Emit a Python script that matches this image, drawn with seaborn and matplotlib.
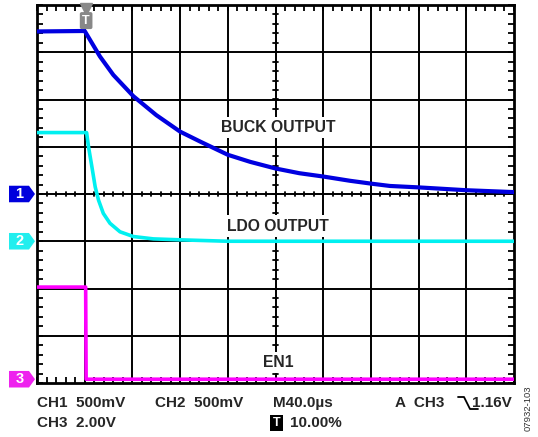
import numpy as np
import pandas as pd
import seaborn as sns
import matplotlib.pyplot as plt
import matplotlib.transforms as mtransforms
from matplotlib.lines import Line2D
from matplotlib.patches import Polygon

# traces, x and y in scope divisions (10 x 8 screen)
buck_x = [0.0, 1.0, 1.32, 1.60, 2.02, 2.5, 3.0, 3.42, 4.0, 4.47, 5.0, 5.5, 6.0, 6.56, 7.0, 7.4, 8.0, 9.0, 10.0]
buck_y = [7.44, 7.45, 6.91, 6.52, 6.07, 5.67, 5.32, 5.11, 4.83, 4.68, 4.54, 4.44, 4.37, 4.28, 4.22, 4.17, 4.14, 4.08, 4.04]

ldo_x = [0.0, 1.04, 1.08, 1.15, 1.22, 1.29, 1.39, 1.53, 1.74, 2.02, 2.44, 3.0, 4.0, 10.0]
ldo_y = [5.30, 5.30, 5.00, 4.58, 4.15, 3.87, 3.59, 3.38, 3.20, 3.10, 3.05, 3.03, 3.0, 3.0]

en_x = [0.0, 1.02, 1.03, 10.0]
en_y = [2.03, 2.03, 0.08, 0.08]

labels = ["BUCK OUTPUT", "LDO OUTPUT", "EN1"]
label_y = [5.4, 3.32, 0.44]
ch_levels = [4.0, 3.0, 0.08]
ch_colors = ["#0000dd", "#22eeee", "#ee22ee"]
trace_colors = ["#0000e0", "#00f0f0", "#ff00ff"]

sns.set_style("white")
plt.rcParams["font.family"] = ["Liberation Sans", "DejaVu Sans"]

fig = plt.figure(figsize=(5.38, 4.37), dpi=100)
ax = fig.add_axes([37 / 538, 1 - 383 / 437, 477 / 538, 378 / 437])

df = pd.concat([
    pd.DataFrame({"x": buck_x, "y": buck_y, "ch": "CH1"}),
    pd.DataFrame({"x": ldo_x, "y": ldo_y, "ch": "CH2"}),
    pd.DataFrame({"x": en_x, "y": en_y, "ch": "CH3"}),
])
sns.lineplot(data=df, x="x", y="y", hue="ch", palette=trace_colors, linewidth=2.6,
             legend=False, ax=ax, sort=False, zorder=5)
ax.lines[0].set_linewidth(3.0)

ax.set_xlim(0, 10)
ax.set_ylim(0, 8)
ax.set_xlabel("")
ax.set_ylabel("")

# graticule
for gx in range(1, 10):
    ax.axvline(gx, color="black", lw=1.4, zorder=1)
for gy in range(1, 8):
    ax.axhline(gy, color="black", lw=1.4, zorder=1)

# border ticks, every 0.2 division
ax.set_xticks(np.arange(0, 10.01, 0.2))
ax.set_yticks(np.arange(0, 8.01, 0.2))
ax.set_xticklabels([])
ax.set_yticklabels([])
ax.tick_params(direction="in", length=4, width=1.3, color="black",
               top=True, bottom=True, left=True, right=True)
for s in ax.spines.values():
    s.set_linewidth(2)
    s.set_color("black")

# center crosshair ticks
tk = 0.05
for t in np.arange(0.2, 10, 0.2):
    ax.plot([t, t], [4 - tk, 4 + tk], color="black", lw=1.3, zorder=2)
for t in np.arange(0.2, 8, 0.2):
    ax.plot([5 - tk, 5 + tk], [t, t], color="black", lw=1.3, zorder=2)

# channel markers (x in figure fraction, y in data)
mtr = mtransforms.blended_transform_factory(fig.transFigure, ax.transData)
for i, (lvl, c) in enumerate(zip(ch_levels, ch_colors)):
    h = 0.175
    xs = np.array([9, 29, 35, 29, 9]) / 538
    fig.add_artist(Polygon(np.column_stack([xs, [lvl - h, lvl - h, lvl, lvl + h, lvl + h]]),
                           closed=True, fc=c, ec="none", transform=mtr, clip_on=False))
    fig.text(19.5 / 538, lvl, str(i + 1), color="white", fontsize=10.5, fontweight="bold",
             ha="center", va="center", transform=mtr)

# trigger marker
ax.plot([1.03], [7.92], marker="v", color="#888888", markersize=8, clip_on=False, zorder=11)
ax.text(1.03, 7.67, "T", color="white", fontsize=9, fontweight="bold", ha="center", va="center",
        zorder=11, bbox=dict(boxstyle="round,pad=0.2,rounding_size=0.15", fc="#888888", ec="none"))

for lab, ly in zip(labels, label_y):
    ax.text(5.05, ly, lab, fontsize=11.3, fontweight="bold", ha="center", va="center", zorder=7,
            bbox=dict(boxstyle="square,pad=0.2", fc="white", ec="none"))

# readout
fs = 11
row1 = 1 - 403 / 437
row2 = 1 - 423 / 437
kw = dict(fontsize=fs, fontweight="bold", va="center")
fig.text(37 / 538, row1, "CH1  500mV", **kw)
fig.text(155 / 538, row1, "CH2  500mV", **kw)
fig.text(273 / 538, row1, "M40.0µs", **kw)
fig.text(395 / 538, row1, "A  CH3", **kw)
fig.text(512 / 538, row1, "1.16V", ha="right", **kw)
fig.text(37 / 538, row2, "CH3  2.00V", **kw)
fig.text(276.5 / 538, row2, "T", fontsize=9, fontweight="bold", va="center", ha="center",
         color="white", bbox=dict(boxstyle="square,pad=0.18", fc="black", ec="none"))
fig.text(290 / 538, row2, "10.00%", **kw)

# falling edge symbol
ex = np.array([458, 464, 470, 478]) / 538
ey = 1 - np.array([397, 397, 409, 409]) / 437
fig.add_artist(Line2D(ex, ey, color="black", lw=1.3))

fig.text(528 / 538, 1 - 408 / 437, "07932-103", fontsize=6.8, rotation=90, va="center",
         ha="center", color="#333333")

fig.savefig("out.png", dpi=100)
